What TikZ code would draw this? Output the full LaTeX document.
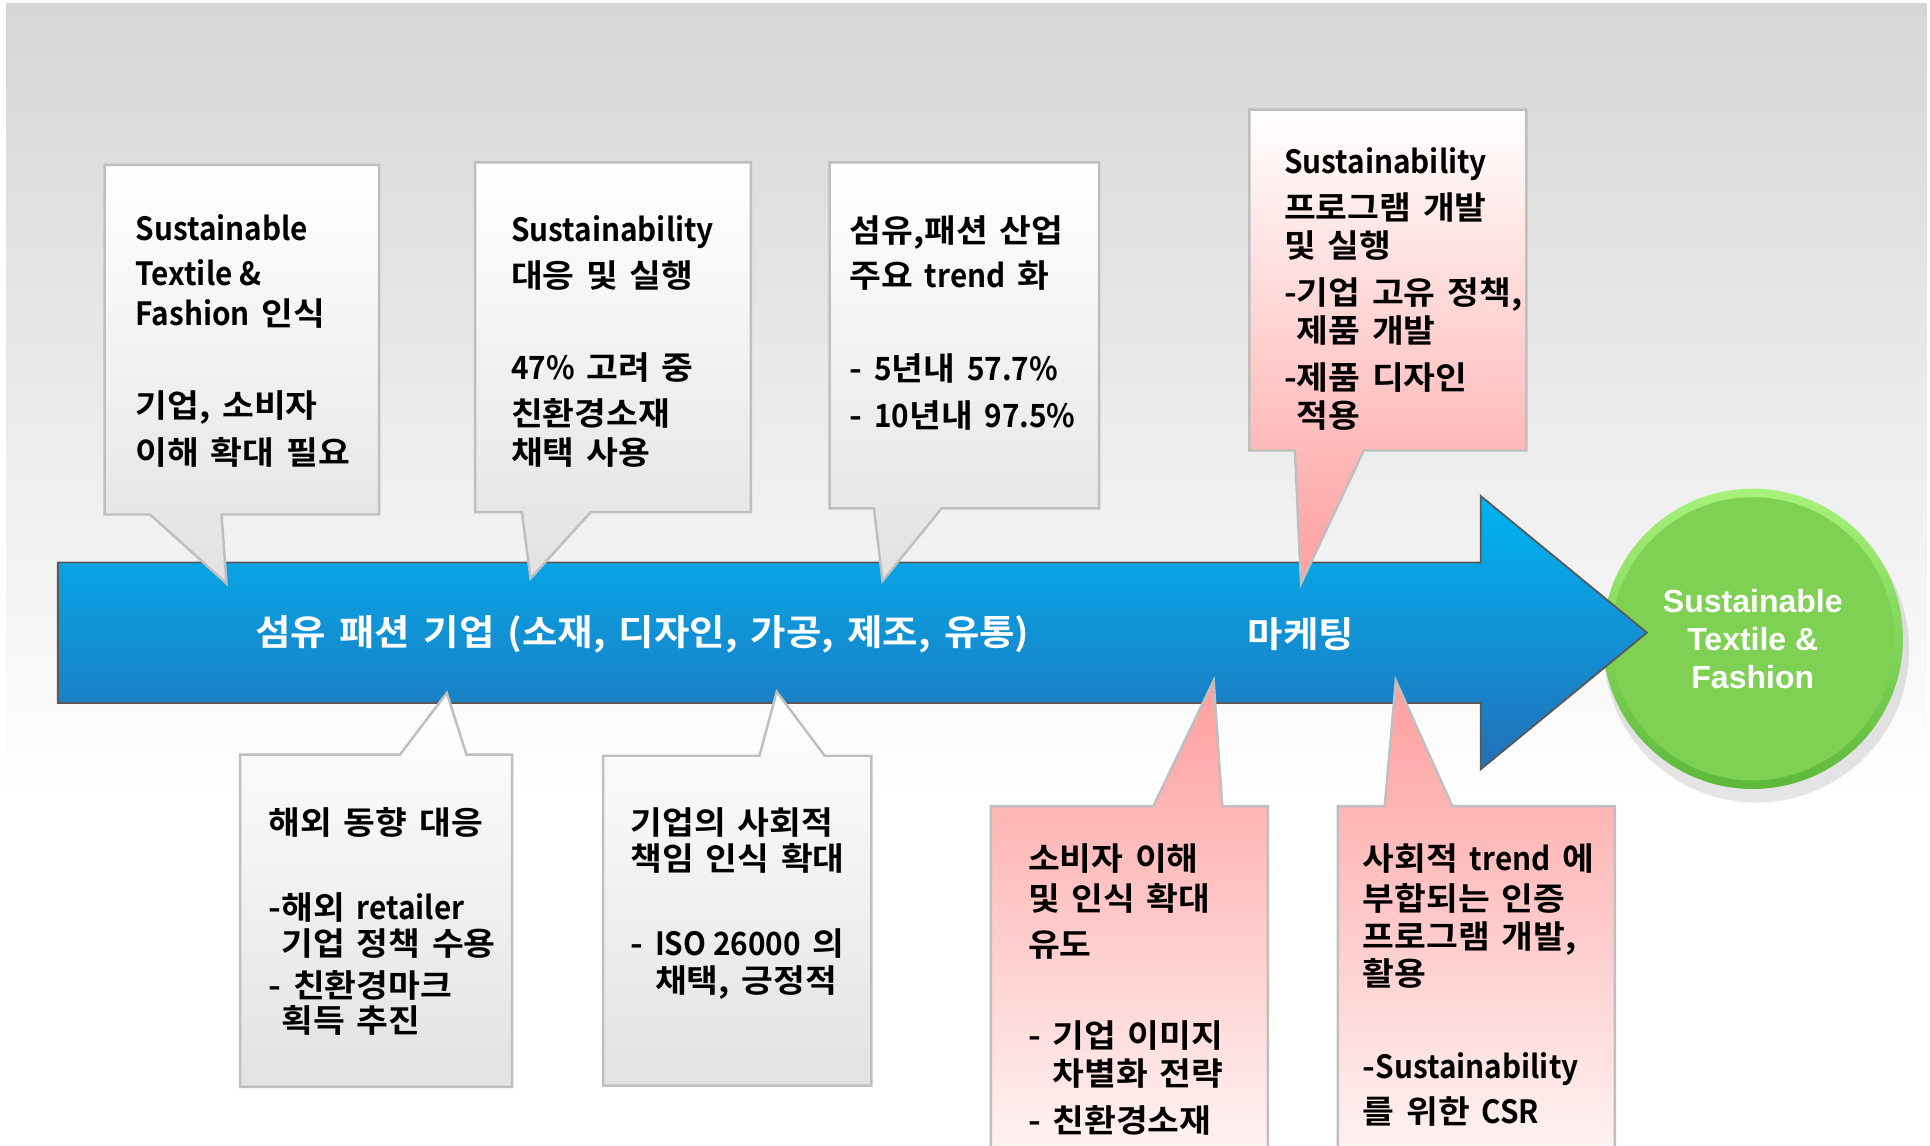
\documentclass[tikz,border=0pt]{standalone}
\usepackage{fontspec}
\newfontfamily\kr{Noto Sans CJK KR}[BoldFont={Noto Sans CJK KR Bold}, FakeStretch=1.08, WordSpace=1.5]
\newfontfamily\krlat{Noto Sans CJK KR}[BoldFont={Noto Sans CJK KR Bold}, FakeStretch=0.93]
\newfontfamily\lsans{Liberation Sans}
\newcommand\enw[1]{{\krlat\bfseries #1}}
\definecolor{bgtop}{HTML}{D6D6D6}
\definecolor{cbord}{HTML}{BFBFBF}
\definecolor{cgray}{HTML}{E2E2E2}
\definecolor{cpink}{HTML}{FF9E9E}
\definecolor{arrtop}{HTML}{00B4F2}
\definecolor{arrbot}{HTML}{2270B8}
\definecolor{arrline}{HTML}{595959}
\definecolor{ballhi}{HTML}{A8F27C}
\definecolor{balllo}{HTML}{5DB83A}
\definecolor{ballmid}{HTML}{7ED152}
\tikzset{
 callout/.style={draw=cbord, line width=2pt, line join=miter},
 grayup/.style={callout, top color=white, bottom color=cgray},
 pinkup/.style={callout, top color=white, bottom color=cpink},
 pinkdown/.style={callout, top color=cpink, bottom color=white},
 ctext/.style={anchor=north west, inner sep=0pt, align=left, font=\kr\bfseries\fontsize{26}{34}\selectfont, text=black},
 arrtext/.style={inner sep=0pt, font=\kr\bfseries\fontsize{29}{35}\selectfont, text=white},
}
\begin{document}
\begin{tikzpicture}[x=1pt,y=-1pt]
\useasboundingbox (0,0) rectangle (1568,931);
\clip (0,0) rectangle (1568,931);
\fill[white] (0,0) rectangle (1568,931);
\shade[top color=bgtop, bottom color=white] (5,3) rectangle (1565,650);

% goal ball
\fill[black, opacity=0.10] (1427,528) circle (124);
\node[circle, minimum size=244pt, inner sep=0pt, top color=ballhi, bottom color=balllo,
  path picture={\fill[ballmid] (path picture bounding box.center) circle (115);},
  font=\lsans\bfseries\fontsize{26}{31}\selectfont, text=white, align=center] (goal) at (1424,519) {Sustainable\\Textile \&\\Fashion};

% main arrow
\draw[arrline, line width=1.5pt, top color=arrtop, bottom color=arrbot]
  (47,457) -- (1203,457) -- (1203,403) -- (1338,514) -- (1203,625) -- (1203,571) -- (47,571) -- cycle;
\node[arrtext] (flow) at (522,515) {섬유 패션 기업 (소재, 디자인, 가공, 제조, 유통)};
\node[arrtext] (mkt) at (1057,515) {마케팅};

% top callouts
\draw[grayup] (85,134) -- (308,134) -- (308,418) -- (180,418) -- (184,474) -- (122,418) -- (85,418) -- cycle;
\draw[grayup] (386,132) -- (610,132) -- (610,416) -- (480,416) -- (431,470) -- (424,416) -- (386,416) -- cycle;
\draw[grayup] (674,132) -- (893,132) -- (893,413) -- (765,413) -- (717,472) -- (710,413) -- (674,413) -- cycle;
\draw[pinkup] (1015,89) -- (1240,89) -- (1240,366) -- (1108,366) -- (1057,474) -- (1052,366) -- (1015,366) -- cycle;

% bottom callouts
\draw[grayup] (195,613) -- (325,613) -- (363,563) -- (379,613) -- (416,613) -- (416,883) -- (195,883) -- cycle;
\draw[grayup] (490,614) -- (617,614) -- (631,562) -- (670,614) -- (708,614) -- (708,882) -- (490,882) -- cycle;
\draw[pinkdown] (805,655) -- (937,655) -- (986,553) -- (993,655) -- (1030,655) -- (1030,990) -- (805,990) -- cycle;
\draw[pinkdown] (1087,655) -- (1125,655) -- (1134,553) -- (1180,655) -- (1312,655) -- (1312,990) -- (1087,990) -- cycle;

% texts
\node[ctext] (t1) at (110,174) {\enw{Sustainable}\\[3pt]\enw{Textile \&}\\[-2pt]\enw{Fashion} 인식\\[41pt]기업, 소비자\\[4pt]이해 확대 필요};
\node[ctext] (t2) at (415,175) {\enw{Sustainability}\\[3pt]대응 및 실행\\[41pt]\enw{47\%} 고려 중\\[3pt]친환경소재\\[-2pt]채택 사용};
\node[ctext] (t3) at (690,175) {섬유,패션 산업\\[3pt]주요 \enw{trend} 화\\[41pt]- \enw{5}년내 \enw{57.7\%}\\[4pt]- \enw{10}년내 \enw{97.5\%}};
\node[ctext] (t4) at (1043,120) {\enw{Sustainability}\\[3pt]프로그램 개발\\[-3pt]및 실행\\[4pt]-기업 고유 정책,\\[-3pt]\phantom{-}제품 개발\\[4pt]-제품 디자인\\[-3pt]\phantom{-}적용};
\node[ctext] (t5) at (218,656) {해외 동향 대응\\[35pt]-해외 \enw{retailer}\\[-5pt]\phantom{-}기업 정책 수용\\[0pt]- 친환경마크\\[-5pt]\phantom{-}획득 추진};
\node[ctext] (t6) at (512,656) {기업의 사회적\\[-5pt]책임 인식 확대\\[35pt]- \enw{ISO 26000} 의\\[-4pt]\phantom{- }채택, 긍정적};
\node[ctext] (t7) at (835,685) {소비자 이해\\[-1pt]및 인식 확대\\[3pt]유도\\[40pt]- 기업 이미지\\[-3pt]\phantom{- }차별화 전략\\[4pt]- 친환경소재};
\node[ctext] (t8) at (1107,685) {사회적 \enw{trend} 에\\[-1pt]부합되는 인증\\[-3pt]프로그램 개발,\\[-4pt]활용\\[41pt]-\enw{Sustainability}\\[3pt]를 위한 \enw{CSR}};
\end{tikzpicture}
\end{document}
